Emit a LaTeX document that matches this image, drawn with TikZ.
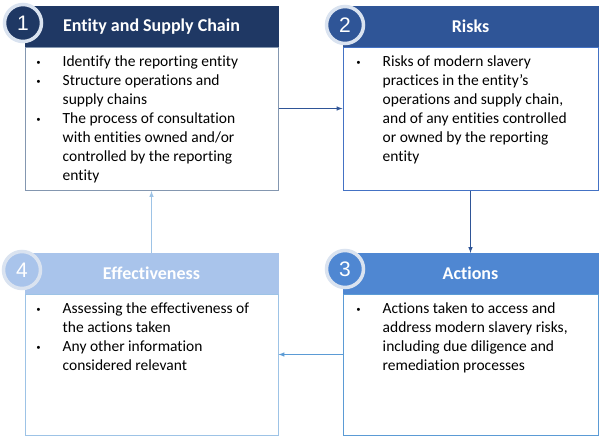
\documentclass[tikz,border=0pt]{standalone}
\usepackage{fontspec}
\setmainfont{Carlito}[Ligatures=NoCommon]
\newfontfamily\numfont{Liberation Sans}
\usetikzlibrary{arrows,positioning}
\definecolor{navy}{HTML}{1F3864}
\definecolor{royal}{HTML}{2F5597}
\definecolor{mid}{HTML}{4F87D2}
\definecolor{pale}{HTML}{A9C4EB}
\definecolor{slate}{HTML}{8497B0}
\definecolor{edgetwo}{HTML}{4472C4}
\definecolor{edgethree}{HTML}{5B9BD5}
\definecolor{edgefour}{HTML}{9DC3E6}
\definecolor{ringc}{HTML}{DAE3F0}
\newcommand{\bul}{\makebox[26pt][l]{\numfont\fontsize{11}{11}\selectfont\textbullet}}
\newcommand{\ind}{\hspace*{26pt}}

\begin{document}
\begin{tikzpicture}[x=1pt,y=1pt,
    head/.style={rectangle, minimum height=41pt, inner sep=0pt, outer sep=0pt,
      text=white, font=\fontsize{18}{22}\selectfont\bfseries},
    body/.style={draw, rectangle, fill=white, line width=1pt, inner sep=0pt, anchor=north},
    num/.style={circle, draw=ringc, line width=3.5pt, minimum size=37pt, inner sep=0pt,
      text=white, font=\numfont\fontsize{21}{24}\selectfont},
    txt/.style={anchor=north west, align=left, inner sep=0pt,
      font=\fontsize{15.5}{19}\selectfont},
    link/.style={->, >=latex, line width=1pt}]

\useasboundingbox (0,0) rectangle (600,437);

\node[body, draw=slate, minimum width=253pt, minimum height=143pt] (b1) at (151.5,390) {};
\node[head, fill=navy, minimum width=254pt, above=0pt of b1] (h1) {Entity and Supply Chain};
\node[body, draw=edgetwo, minimum width=255pt, minimum height=143pt] (b2) at (470.5,390) {};
\node[head, fill=royal, minimum width=256pt, above=0pt of b2] (h2) {Risks};
\node[body, draw=edgethree, minimum width=255pt, minimum height=141pt] (b3) at (470.5,143) {};
\node[head, fill=mid, minimum width=256pt, above=0pt of b3] (h3) {Actions};
\node[body, draw=edgefour, minimum width=253pt, minimum height=141pt] (b4) at (151.5,143) {};
\node[head, fill=pale, minimum width=254pt, above=0pt of b4] (h4) {Effectiveness};

\node[num, fill=navy] (n1) at (23,414) {1};
\node[num, fill=royal] (n2) at (345,412) {2};
\node[num, fill=mid] (n3) at (345,168) {3};
\node[num, fill=pale] (n4) at (22,167) {4};

\node[txt] (t1) at ([xshift=12pt,yshift=-8.5pt]b1.north west)
  {\bul Identify the reporting entity\\
   \bul Structure operations and\\
   \ind supply chains\\
   \bul The process of consultation\\
   \ind with entities owned and/or\\
   \ind controlled by the reporting\\
   \ind entity};
\node[txt] (t2) at ([xshift=14pt,yshift=-8.5pt]b2.north west)
  {\bul Risks of modern slavery\\
   \ind practices in the entity’s\\
   \ind operations and supply chain,\\
   \ind and of any entities controlled\\
   \ind or owned by the reporting\\
   \ind entity};
\node[txt] (t3) at ([xshift=14pt,yshift=-8.5pt]b3.north west)
  {\bul Actions taken to access and\\
   \ind address modern slavery risks,\\
   \ind including due diligence and\\
   \ind remediation processes};
\node[txt] (t4) at ([xshift=12pt,yshift=-8.5pt]b4.north west)
  {\bul Assessing the effectiveness of\\
   \ind the actions taken\\
   \bul Any other information\\
   \ind considered relevant};

\draw[link, royal] ([yshift=10.5pt]b1.east) -- ([yshift=10.5pt]b1.east -| b2.west);
\draw[link, royal] (b2.south) -- (h3.north);
\draw[link, edgethree] ([yshift=10.5pt]b3.west) -- ([yshift=10.5pt]b3.west -| b4.east);
\draw[link, edgefour] (h4.north) -- (b1.south);
\end{tikzpicture}
\end{document}
